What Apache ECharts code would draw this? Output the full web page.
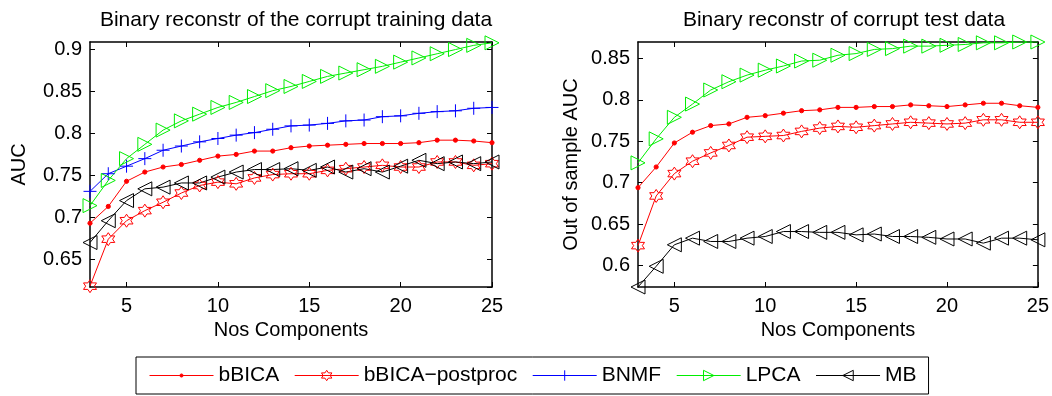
<!DOCTYPE html>
<html>
<head>
<meta charset="utf-8">
<title>Binary reconstr AUC</title>
<script src="https://cdn.jsdelivr.net/npm/echarts@6/dist/echarts.min.js"></script>
<style>
    html, body { margin: 0; padding: 0; background: #fff; }
    #chart { width: 1052px; height: 396px; }
</style>
</head>
<body>
<div id="chart"></div>
<script>
// x axis: number of components
const components = [3, 4, 5, 6, 7, 8, 9, 10, 11, 12, 13, 14, 15, 16, 17, 18, 19, 20, 21, 22, 23, 24, 25]

// left panel: corrupt training data
const trainBBICA = [0.693, 0.713, 0.743, 0.754, 0.760, 0.763, 0.768, 0.773, 0.775, 0.779, 0.779, 0.783, 0.785, 0.786, 0.787, 0.788, 0.788, 0.788, 0.789, 0.792, 0.792, 0.791, 0.789]
const trainPost = [0.618, 0.674, 0.696, 0.708, 0.718, 0.729, 0.738, 0.742, 0.740, 0.747, 0.751, 0.752, 0.752, 0.756, 0.758, 0.760, 0.762, 0.760, 0.760, 0.766, 0.766, 0.762, 0.764]
const trainBNMF = [0.731, 0.752, 0.761, 0.770, 0.780, 0.785, 0.790, 0.794, 0.798, 0.801, 0.805, 0.809, 0.810, 0.812, 0.815, 0.816, 0.820, 0.821, 0.824, 0.826, 0.827, 0.830, 0.831]
const trainLPCA = [0.714, 0.744, 0.770, 0.787, 0.804, 0.815, 0.823, 0.831, 0.837, 0.844, 0.851, 0.856, 0.862, 0.868, 0.872, 0.876, 0.880, 0.885, 0.890, 0.895, 0.900, 0.905, 0.908]
const trainMB = [0.670, 0.696, 0.720, 0.734, 0.736, 0.741, 0.741, 0.748, 0.754, 0.757, 0.757, 0.758, 0.756, 0.760, 0.754, 0.758, 0.754, 0.761, 0.768, 0.764, 0.766, 0.764, 0.766]

// right panel: corrupt test data
const testBBICA = [0.694, 0.719, 0.748, 0.761, 0.769, 0.771, 0.779, 0.781, 0.784, 0.787, 0.788, 0.791, 0.791, 0.792, 0.792, 0.794, 0.793, 0.792, 0.794, 0.796, 0.796, 0.793, 0.791]
const testPost = [0.624, 0.684, 0.711, 0.726, 0.736, 0.745, 0.755, 0.756, 0.757, 0.762, 0.766, 0.768, 0.767, 0.769, 0.771, 0.773, 0.772, 0.771, 0.772, 0.776, 0.776, 0.773, 0.773]
const testLPCA = [0.724, 0.753, 0.779, 0.795, 0.812, 0.822, 0.830, 0.836, 0.841, 0.847, 0.848, 0.854, 0.856, 0.861, 0.862, 0.865, 0.865, 0.866, 0.867, 0.869, 0.869, 0.870, 0.870]
const testMB = [0.574, 0.599, 0.625, 0.633, 0.629, 0.629, 0.633, 0.635, 0.641, 0.641, 0.640, 0.640, 0.637, 0.638, 0.635, 0.635, 0.634, 0.632, 0.632, 0.627, 0.633, 0.633, 0.631]

const methods = ['bBICA', 'bBICA\u2212postproc', 'BNMF', 'LPCA', 'MB']

const FONT = "'Liberation Sans', Arial, sans-serif"

// marker look for every method
const looks = {
    'bBICA': { color: '#ff0000', fill: '#ff0000', size: 14,
        symbol: 'path://M0,0M10,10M3.5,5A1.5,1.5,0,1,1,6.5,5A1.5,1.5,0,1,1,3.5,5Z' },
    'bBICA\u2212postproc': { color: '#ff0000', fill: 'rgba(0,0,0,0)', size: 13,
        symbol: 'path://M5,0L6.443,2.5L9.33,2.5L7.887,5L9.33,7.5L6.443,7.5L5,10L3.557,7.5L0.67,7.5L2.113,5L0.67,2.5L3.557,2.5Z' },
    'BNMF': { color: '#0000ff', fill: 'rgba(0,0,0,0)', size: 13,
        symbol: 'path://M5,0L5,10M0,5L10,5' },
    'LPCA': { color: '#00ee00', fill: 'rgba(0,0,0,0)', size: 14,
        symbol: 'path://M0,0L10,5L0,10Z' },
    'MB': { color: '#000000', fill: 'rgba(0,0,0,0)', size: 14,
        symbol: 'path://M10,0L0,5L10,10Z' }
}

function makeSeries(name, data, axisIndex) {
    const look = looks[name]
    return {
        name: name,
        type: 'line',
        xAxisIndex: axisIndex,
        yAxisIndex: axisIndex,
        data: data,
        symbol: look.symbol,
        symbolSize: look.size,
        showAllSymbol: true,
        lineStyle: { color: look.color, width: 1 },
        itemStyle: { color: look.fill, borderColor: look.color, borderWidth: 1 }
    }
}

function bottomAxis(gridIndex) {
    return {
        type: 'category', gridIndex: gridIndex, data: components, boundaryGap: false,
        name: 'Nos Components', nameLocation: 'middle', nameGap: 31,
        nameTextStyle: { fontFamily: FONT, fontSize: 20, color: '#000' },
        axisLine: { lineStyle: { color: '#000', width: 1.5 } },
        axisTick: { inside: true, length: 5, interval: (i, v) => v % 5 === 0, lineStyle: { color: '#000' } },
        axisLabel: { interval: (i, v) => v % 5 === 0, fontFamily: FONT, fontSize: 20, color: '#000', margin: 9 },
        splitLine: { show: false }
    }
}

function topAxis(gridIndex) {
    return {
        type: 'category', gridIndex: gridIndex, data: components, boundaryGap: false, position: 'top',
        axisLine: { lineStyle: { color: '#000', width: 1.5 } },
        axisTick: { inside: true, length: 5, interval: (i, v) => v % 5 === 0, lineStyle: { color: '#000' } },
        axisLabel: { show: false },
        splitLine: { show: false }
    }
}

function leftAxis(gridIndex, name, min, max, gap) {
    return {
        type: 'value', gridIndex: gridIndex, min: min, max: max,
        name: name, nameLocation: 'middle', nameGap: gap,
        nameTextStyle: { fontFamily: FONT, fontSize: 20, color: '#000' },
        axisLine: { show: true, lineStyle: { color: '#000', width: 1.5 } },
        axisTick: { show: true, inside: true, length: 5, lineStyle: { color: '#000' } },
        axisLabel: { fontFamily: FONT, fontSize: 20, color: '#000', margin: 8, showMinLabel: false, showMaxLabel: false },
        splitLine: { show: false }
    }
}

function rightAxis(gridIndex, min, max) {
    return {
        type: 'value', gridIndex: gridIndex, min: min, max: max, position: 'right',
        axisLine: { show: true, lineStyle: { color: '#000', width: 1.5 } },
        axisTick: { show: true, inside: true, length: 5, lineStyle: { color: '#000' } },
        axisLabel: { show: false },
        splitLine: { show: false }
    }
}

const myChart = echarts.init(document.getElementById('chart'))

const option = {
    animation: false,
    backgroundColor: '#fff',
    title: [
        { text: 'Binary reconstr of the corrupt training data', left: 291, top: 5, textAlign: 'center',
          textStyle: { fontFamily: FONT, fontSize: 21, fontWeight: 'normal', color: '#000' } },
        { text: 'Binary reconstr of corrupt test data', left: 839, top: 5, textAlign: 'center',
          textStyle: { fontFamily: FONT, fontSize: 21, fontWeight: 'normal', color: '#000' } }
    ],
    legend: {
        data: methods,
        left: 136, top: 357,
        orient: 'horizontal',
        borderColor: '#000', borderWidth: 1,
        padding: [8, 12, 8, 13],
        itemWidth: 64, itemHeight: 13, itemGap: 15,
        lineStyle: { width: 1 },
        itemStyle: { borderWidth: 1 },
        textStyle: { fontFamily: FONT, fontSize: 21, color: '#000' }
    },
    grid: [
        { left: 90, top: 42, width: 402, height: 245 },
        { left: 638, top: 42, width: 402, height: 245 }
    ],
    xAxis: [bottomAxis(0), topAxis(0), bottomAxis(1), topAxis(1)],
    yAxis: [
        leftAxis(0, 'AUC', 0.617, 0.909, 61),
        rightAxis(0, 0.617, 0.909),
        leftAxis(1, 'Out of sample AUC', 0.574, 0.870, 57),
        rightAxis(1, 0.574, 0.870)
    ],
    series: [
        makeSeries('bBICA', trainBBICA, 0),
        makeSeries('bBICA\u2212postproc', trainPost, 0),
        makeSeries('BNMF', trainBNMF, 0),
        makeSeries('LPCA', trainLPCA, 0),
        makeSeries('MB', trainMB, 0),
        makeSeries('bBICA', testBBICA, 2),
        makeSeries('bBICA\u2212postproc', testPost, 2),
        makeSeries('LPCA', testLPCA, 2),
        makeSeries('MB', testMB, 2)
    ]
}

myChart.setOption(option)
</script>
</body>
</html>
